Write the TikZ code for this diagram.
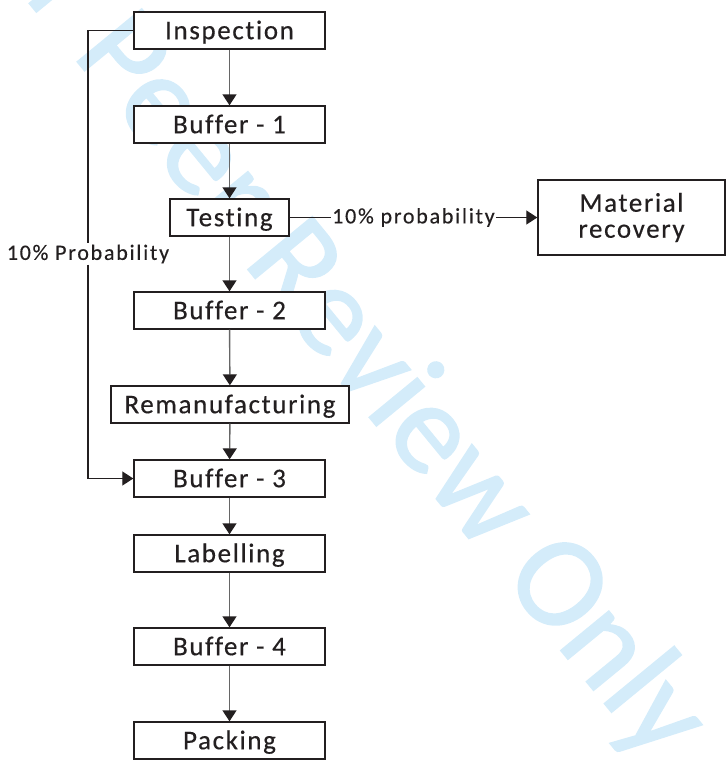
\documentclass[tikz,border=0pt]{standalone}
\usepackage{fontspec}
\setmainfont{Carlito}
\newfontfamily\boxfont{Carlito}[LetterSpace=6,Ligatures={NoCommon},FakeBold=0.4]
\newfontfamily\lblfont{Carlito}[LetterSpace=8,Ligatures={NoCommon},FakeBold=0.3]
\newfontfamily\wmfont{Carlito}[FakeBold=1.2]
\usetikzlibrary{arrows.meta}
\definecolor{wm}{RGB}{212,236,250}
\definecolor{ink}{RGB}{35,31,32}
\begin{document}
\begin{tikzpicture}[x=1pt,y=-1pt,
  box/.style={draw=ink, line width=1.4pt, fill=white, inner sep=0pt, text=ink,
    font=\boxfont\fontsize{27}{26}\selectfont, text height=17.4pt, text depth=0pt,
    minimum height=37pt, minimum width=191pt},
  lbl/.style={inner sep=1pt, fill=white, text=ink, font=\lblfont\fontsize{22}{24}\selectfont},
  tip/.style={-{Triangle[length=11pt,width=14pt,color=ink]}},
  flow/.style={draw=black!60, line width=1.4pt, tip},
  link/.style={draw=ink, line width=1.3pt}]
\useasboundingbox (0,0) rectangle (726,761);
% watermark
\node[rotate=-50.6, text=wm, inner sep=0pt, font=\wmfont\fontsize{130}{130}\selectfont] (wmk) at (326,310) {For Peer Review Only};
% boxes
\node[box] (insp) at (229.5,30.5) {Inspection};
\node[box] (b1) at (229.5,124.5) {Buffer - 1};
\node[box, minimum width=119pt] (test) at (229.5,217.5) {Testing};
\node[box] (b2) at (229.5,310.5) {Buffer - 2};
\node[box, minimum width=238pt] (reman) at (230,404.5) {Remanufacturing};
\node[box] (b3) at (229.5,478.5) {Buffer - 3};
\node[box] (lab) at (229.5,553.5) {Labelling};
\node[box] (b4) at (229.5,646.5) {Buffer - 4};
\node[box] (pack) at (229.5,740.5) {Packing};
\node[box, text height=, text depth=, minimum width=187pt, minimum height=75pt, align=center] (mat) at (631.5,217.5) {Material\\recovery};
% main flow
\draw[flow] (insp) -- (b1);
\draw[flow] (b1) -- (test);
\draw[flow] (test) -- (b2);
\draw[flow] (b2) -- (reman);
\draw[flow] (reman) -- (b3);
\draw[flow] (b3) -- (lab);
\draw[flow] (lab) -- (b4);
\draw[flow] (b4) -- (pack);
% testing to material recovery
\node[lbl, anchor=center] (plab) at (413.5,217.5) {10\% probability};
\draw[link] (test.east) -- (plab.west);
\draw[link, tip] (plab.east) -- (mat.west);
% loop inspection to buffer 3
\coordinate (c1) at (88,30.5);
\coordinate (c2) at (88,478.5);
\node[lbl] (llab) at (88,254) {10\% Probability};
\draw[link] (insp.west) -- (c1) -- (llab.north);
\draw[link, tip] (llab.south) -- (c2) -- (b3.west);
\end{tikzpicture}
\end{document}
